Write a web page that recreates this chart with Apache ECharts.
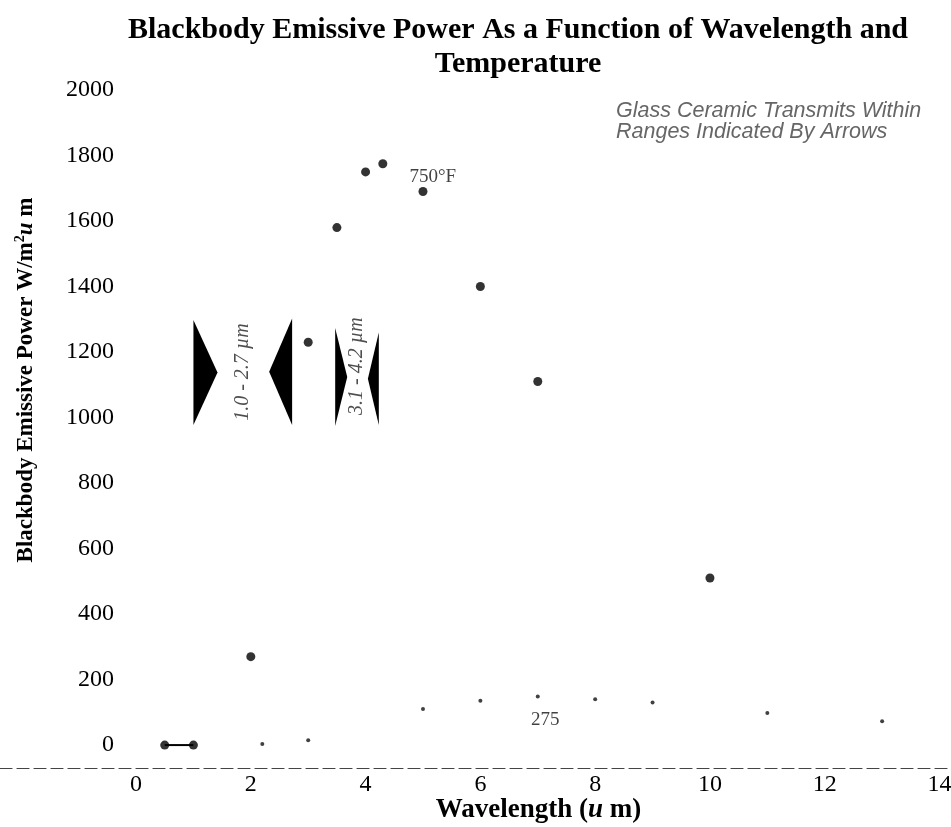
<!DOCTYPE html>
<html>
<head>
<meta charset="utf-8">
<script src="https://cdn.jsdelivr.net/npm/echarts@6/dist/echarts.min.js"></script>
<style>
  html, body { margin: 0; padding: 0; background: #fff; }
  #chart { width: 951px; height: 827px; }
</style>
</head>
<body>
<div id="chart"></div>
<script>
// 750 F curve: wavelength (um) vs emissive power
const hotWavelength = [0.5, 1, 2, 3, 3.5, 4, 4.3, 5, 6, 7, 10];
const hotPower = [0, 0, 270, 1230, 1580, 1750, 1775, 1690, 1400, 1110, 510];

// 275 F curve (small marks)
const coolWavelength = [2.2, 3, 5, 6, 7, 8, 9, 11, 13];
const coolPower = [3, 15, 110, 135, 148, 140, 130, 98, 73];

const xTicks = [0, 2, 4, 6, 8, 10, 12, 14];
const yTicks = [0, 200, 400, 600, 800, 1000, 1200, 1400, 1600, 1800, 2000];

// transmission band arrows: base wavelength, tip wavelength, low / high power
const arrowBase = [1.0, 2.72, 3.47, 4.23];
const arrowTip = [1.42, 2.32, 3.68, 4.04];
const arrowLow = [977, 977, 974, 977];
const arrowHigh = [1298, 1302, 1273, 1260];

const bandText = ['1.0 - 2.7 µm', '3.1 - 4.2 µm'];
const bandX = [1.86, 3.85];
const bandY = [1139, 1157];

const curveText = ['750°F', '275'];
const curveX = [5.17, 7.13];
const curveY = [1734, 76];

const serif = 'Liberation Serif';

const chart = echarts.init(document.getElementById('chart'));

const hotData = hotWavelength.map((x, i) => [x, hotPower[i]]);
const coolData = coolWavelength.map((x, i) => [x, coolPower[i]]);
const arrowData = arrowBase.map((b, i) => [b, arrowTip[i], arrowLow[i], arrowHigh[i]]);

const option = {
  animation: false,
  title: [
    {
      text: 'Blackbody Emissive Power As a Function of Wavelength and\nTemperature',
      left: 518,
      top: 13,
      textAlign: 'center',
      padding: 0,
      textStyle: {
        fontFamily: serif,
        fontWeight: 'bold',
        fontSize: 30,
        lineHeight: 34,
        color: '#000',
      },
    },
    {
      text: 'Glass Ceramic Transmits Within\nRanges Indicated By Arrows',
      left: 616,
      top: 101,
      padding: 0,
      textStyle: {
        fontFamily: 'Liberation Sans',
        fontStyle: 'italic',
        fontWeight: 'normal',
        fontSize: 21.5,
        lineHeight: 21,
        color: '#666',
      },
    },
  ],
  grid: {
    left: 0,
    right: 0,
    top: 90,
    bottom: 59,
    containLabel: false,
    outerBoundsMode: 'none',
  },
  xAxis: {
    type: 'value',
    min: -2.37,
    max: 14.2,
    name: 'Wavelength ({it|u} m)',
    nameLocation: 'middle',
    nameGap: 29,
    nameMoveOverlap: false,
    nameTextStyle: {
      fontFamily: serif,
      fontWeight: 'bold',
      fontSize: 27,
      color: '#000',
      padding: [0, 0, 0, 126],
      rich: {
        it: { fontFamily: serif, fontWeight: 'bold', fontStyle: 'italic', fontSize: 27, color: '#000' },
      },
    },
    axisLine: {
      onZero: false,
      lineStyle: { color: '#444', width: 1.2, type: [12, 5] },
    },
    axisTick: { show: false },
    splitLine: { show: false },
    axisLabel: {
      customValues: xTicks,
      fontFamily: serif,
      fontSize: 24,
      color: '#000',
      margin: 5,
    },
  },
  yAxis: {
    type: 'value',
    min: -70,
    max: 2000,
    offset: -136,
    name: 'Blackbody Emissive Power W/m{sup|2}{it|u} m',
    nameLocation: 'middle',
    nameGap: 96,
    nameTextStyle: {
      fontFamily: serif,
      fontWeight: 'bold',
      fontSize: 23,
      color: '#000',
      padding: [0, 0, 0, 98],
      rich: {
        sup: { fontFamily: serif, fontWeight: 'bold', fontSize: 14, color: '#000', verticalAlign: 'bottom', padding: [0, 0, 13, 0] },
        it: { fontFamily: serif, fontWeight: 'bold', fontStyle: 'italic', fontSize: 23, color: '#000' },
      },
    },
    axisLine: {
      show: false,
      onZero: false,
    },
    axisTick: { show: false },
    splitLine: { show: false },
    axisLabel: {
      customValues: yTicks,
      formatter: (value) => String(value),
      fontFamily: serif,
      fontSize: 24,
      color: '#000',
      margin: 22,
    },
  },
  series: [
    {
      name: '750F',
      type: 'scatter',
      data: hotData,
      symbol: 'circle',
      symbolSize: 9,
      itemStyle: { color: '#000' },
    },
    {
      name: '750F line',
      type: 'line',
      data: hotData.slice(0, 2),
      symbol: 'none',
      lineStyle: { color: '#000', width: 2 },
    },
    {
      name: '275F',
      type: 'scatter',
      data: coolData,
      symbol: 'circle',
      symbolSize: 4,
      itemStyle: { color: '#111' },
    },
    {
      name: 'bands',
      type: 'custom',
      data: arrowData,
      encode: { x: [0, 1], y: [2, 3] },
      renderItem: function (params, api) {
        const low = api.value(2);
        const high = api.value(3);
        const p1 = api.coord([api.value(0), low]);
        const p2 = api.coord([api.value(0), high]);
        const tip = api.coord([api.value(1), (low + high) / 2]);
        return {
          type: 'polygon',
          shape: { points: [p1, p2, tip] },
          style: { fill: '#000' },
        };
      },
    },
    {
      name: 'band labels',
      type: 'scatter',
      symbolSize: 0,
      data: bandText.map((t, i) => ({ name: t, value: [bandX[i], bandY[i]] })),
      label: {
        show: true,
        position: 'inside',
        rotate: 90,
        formatter: '{b}',
        fontFamily: serif,
        fontStyle: 'italic',
        fontSize: 20,
        color: '#222',
      },
    },
    {
      name: 'curve labels',
      type: 'scatter',
      symbolSize: 0,
      data: curveText.map((t, i) => ({ name: t, value: [curveX[i], curveY[i]] })),
      label: {
        show: true,
        position: 'inside',
        formatter: '{b}',
        fontFamily: serif,
        fontSize: 19,
        color: '#111',
      },
    },
  ],
};

chart.setOption(option);
window.addEventListener('resize', () => chart.resize());
</script>
</body>
</html>
